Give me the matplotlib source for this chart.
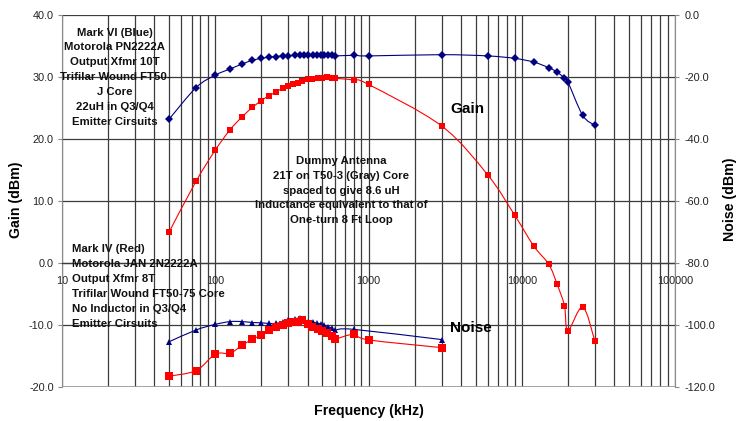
import numpy as np
import matplotlib
matplotlib.use("Agg")
import matplotlib.pyplot as plt
from matplotlib.path import Path
from matplotlib.patches import PathPatch
from matplotlib.ticker import NullFormatter, FixedLocator, FixedFormatter

plt.rcParams['font.family'] = ['Liberation Sans', 'DejaVu Sans']

# ---------------- data ----------------
gain_blue_freq = [50, 75, 100, 125, 150, 175, 200, 225, 250, 275, 300, 330, 355, 380, 405,
                  435, 460, 490, 515, 545, 575, 605, 800, 1000, 3000, 6000, 9000, 12000,
                  15000, 17000, 19000, 20000, 25000, 30000]
gain_blue = [23.2, 28.3, 30.3, 31.3, 32.1, 32.7, 33.0, 33.2, 33.3, 33.4, 33.4, 33.5, 33.5,
             33.5, 33.5, 33.5, 33.5, 33.5, 33.5, 33.5, 33.5, 33.4, 33.5, 33.4, 33.6, 33.4,
             33.0, 32.4, 31.5, 30.8, 29.8, 29.2, 23.8, 22.2]

gain_red_freq = [50, 75, 100, 125, 150, 175, 200, 225, 250, 275, 300, 320, 345, 370, 400,
                 430, 465, 495, 540, 580, 605, 800, 1000, 3000, 6000, 9000, 12000, 15000,
                 17000, 19000, 20000, 25000, 30000]
gain_red = [5.0, 13.2, 18.2, 21.5, 23.6, 25.1, 26.2, 27.0, 27.6, 28.2, 28.6, 28.9, 29.1,
            29.4, 29.6, 29.7, 29.8, 29.8, 30.0, 29.9, 29.8, 29.5, 28.8, 22.1, 14.2, 7.7,
            2.7, -0.2, -3.4, -6.9, -10.9, -7.1, -12.6]

noise_blue_freq = [50, 75, 100, 125, 150, 175, 200, 225, 250, 275, 300, 330, 355, 380, 405,
                   435, 460, 490, 515, 545, 575, 605, 800, 3000]
noise_blue = [-105.4, -101.6, -99.8, -98.9, -98.9, -99.2, -99.3, -99.5, -99.5, -99.0, -98.5,
              -98.0, -97.8, -98.5, -98.9, -99.1, -99.4, -99.6, -100.1, -100.5, -101.0,
              -101.6, -101.4, -104.7]

noise_red_freq = [50, 75, 100, 125, 150, 175, 200, 225, 250, 275, 300, 320, 345, 370, 400,
                  430, 465, 495, 540, 580, 605, 800, 1000, 3000]
noise_red = [-116.5, -114.7, -109.4, -109.1, -106.5, -104.6, -103.2, -101.6, -100.5, -100.0,
             -99.5, -99.0, -98.9, -98.5, -99.8, -100.5, -101.3, -101.8, -102.7, -103.5,
             -104.5, -103.0, -104.8, -107.3]

x_ticks = [10, 100, 1000, 10000, 100000]
x_tick_labels = ["10", "100", "1000", "10000", "100000"]
gain_ticks = [-20, -10, 0, 10, 20, 30, 40]
noise_ticks = [-120, -100, -80, -60, -40, -20, 0]

note_blue = ["Mark VI (Blue)", "Motorola PN2222A", "Output Xfmr 10T",
             "Trifilar Wound FT50-", "J Core", "22uH in Q3/Q4", "Emitter Cirsuits"]
note_antenna = ["Dummy Antenna", "21T on T50-3 (Gray) Core", "spaced to give 8.6 uH",
                "Inductance equivalent to that of", "One-turn 8 Ft Loop"]
note_red = ["Mark IV (Red)", "Motorola JAN 2N2222A", "Output Xfmr 8T",
            "Trifilar Wound FT50-75 Core", "No Inductor in Q3/Q4", "Emitter Cirsuits"]

# ---------------- helpers ----------------
W, H = 739, 421


def smooth_path(xs, ys):
    """Catmull-Rom style Bezier through points in (log10 x, y) space."""
    lx = np.log10(np.asarray(xs, float))
    yy = np.asarray(ys, float)
    n = len(lx)
    verts = [(lx[0], yy[0])]
    codes = [Path.MOVETO]
    for i in range(n - 1):
        p0 = np.array([lx[max(i - 1, 0)], yy[max(i - 1, 0)]])
        p1 = np.array([lx[i], yy[i]])
        p2 = np.array([lx[i + 1], yy[i + 1]])
        p3 = np.array([lx[min(i + 2, n - 1)], yy[min(i + 2, n - 1)]])
        c1 = p1 + (p2 - p0) / 6.0
        c2 = p2 - (p3 - p1) / 6.0
        verts += [tuple(c1), tuple(c2), tuple(p2)]
        codes += [Path.CURVE4] * 3
    v = np.array(verts)
    v[:, 0] = 10 ** v[:, 0]
    return Path(v, codes)


def series(axis, xs, ys, color, marker, ms, lw):
    axis.add_patch(PathPatch(smooth_path(xs, ys), fill=False, edgecolor=color, lw=lw,
                             zorder=3))
    axis.plot(xs, ys, linestyle='none', marker=marker, color=color, ms=ms,
              markeredgewidth=0, zorder=4)


# ---------------- figure ----------------
fig = plt.figure(figsize=(W / 100, H / 100), dpi=100)
fig.patch.set_facecolor('white')
ax = fig.add_axes([62 / W, 1 - 387 / H, (675 - 62) / W, (387 - 15) / H])
ax.set_xscale('log')
ax.set_xlim(10, 100000)
ax.set_ylim(-20, 40)

ax2 = ax.twinx()
ax2.set_ylim(-120, 0)

grid_c = '#3c3c3c'
ax.xaxis.set_major_locator(FixedLocator(x_ticks))
ax.xaxis.set_major_formatter(FixedFormatter(x_tick_labels))
ax.xaxis.set_minor_formatter(NullFormatter())
ax.grid(True, which='both', axis='x', color=grid_c, lw=0.9)
ax.set_yticks(gain_ticks)
ax.set_yticklabels([f"{v:.1f}" for v in gain_ticks])
ax.grid(True, which='major', axis='y', color=grid_c, lw=0.9)
ax.set_axisbelow(True)

ax.spines['bottom'].set_position(('data', 0))
ax.spines['bottom'].set_color(grid_c)
ax.spines['bottom'].set_linewidth(0.9)
ax.spines['top'].set_visible(False)
ax.spines['right'].set_visible(False)
ax.spines['left'].set_color('#8a8a8a')
ax.axhline(-20, color='#9a9a9a', lw=1.2, zorder=1)

ax.tick_params(axis='x', which='both', length=0, pad=9, labelsize=7.8, labelcolor='#222222')
ax.tick_params(axis='y', which='major', direction='out', length=3, width=0.8,
               color='#8a8a8a', pad=3, labelsize=7.8, labelcolor='#222222')

for s in ['top', 'bottom', 'left']:
    ax2.spines[s].set_visible(False)
ax2.spines['right'].set_color('#8a8a8a')
ax2.set_yticks(noise_ticks)
ax2.set_yticklabels([f"{v:.1f}" for v in noise_ticks])
ax2.tick_params(axis='y', direction='out', length=3, width=0.8, color='#8a8a8a', pad=4,
                labelsize=7.8, labelcolor='#222222')

# series
series(ax, gain_blue_freq, gain_blue, '#000080', 'D', 3.6, 0.8)
series(ax, gain_red_freq, gain_red, '#ff0000', 's', 4.6, 0.8)
series(ax2, noise_blue_freq, noise_blue, '#000080', '^', 4.8, 0.8)
series(ax2, noise_red_freq, noise_red, '#ff0000', 's', 6.2, 0.8)

# labels
fig.text(16 / W, 1 - 200 / H, "Gain (dBm)", rotation=90, ha='center', va='center',
         fontsize=10.2, fontweight='bold')
fig.text(730 / W, 1 - 199 / H, "Noise (dBm)", rotation=90, ha='center', va='center',
         fontsize=10.2, fontweight='bold')
fig.text(369 / W, 1 - 411 / H, "Frequency (kHz)", ha='center', va='center',
         fontsize=10.2, fontweight='bold')

fig.text(450 / W, 1 - 108.5 / H, "Gain", ha='left', va='center', fontsize=11,
         fontweight='bold')
fig.text(450 / W, 1 - 327.5 / H, "Noise", ha='left', va='center', fontsize=11,
         fontweight='bold')

for i, line in enumerate(note_blue):
    fig.text(115 / W, 1 - (32.5 + 14.87 * i) / H, line, ha='center', va='center',
             fontsize=8.2, fontweight='bold', color='#111111')
for i, line in enumerate(note_antenna):
    fig.text(341 / W, 1 - (161 + 14.8 * i) / H, line, ha='center', va='center',
             fontsize=8.2, fontweight='bold', color='#111111')
for i, line in enumerate(note_red):
    fig.text(71.5 / W, 1 - (249.5 + 14.9 * i) / H, line, ha='left', va='center',
             fontsize=8.2, fontweight='bold', color='#111111')

fig.savefig("out.png", dpi=100, facecolor='white')
